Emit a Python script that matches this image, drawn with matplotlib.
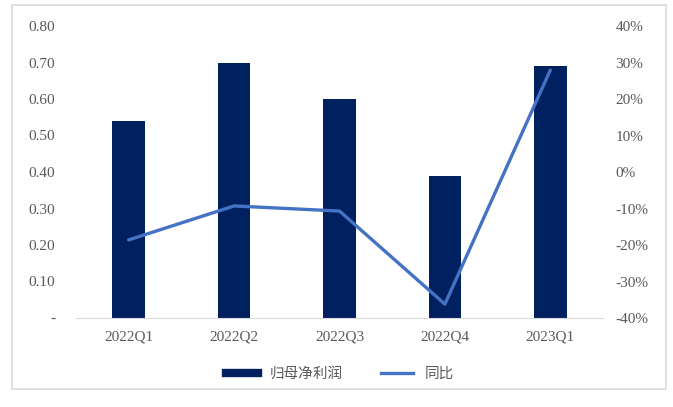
import matplotlib.pyplot as plt
from matplotlib.patches import Rectangle
from matplotlib.lines import Line2D
from matplotlib.ticker import FuncFormatter
import numpy as np

# data
quarters = ['2022Q1', '2022Q2', '2022Q3', '2022Q4', '2023Q1']
net_profit = [0.54, 0.70, 0.60, 0.39, 0.69]
yoy = [-18.6, -9.3, -10.7, -36.2, 27.9]  # percent

bar_color = '#002060'
line_color = '#4472C4'
tick_color = '#595959'

plt.rcParams['font.family'] = ['Liberation Serif', 'Noto Sans CJK SC']

fig = plt.figure(figsize=(6.73, 4.07), dpi=100)
ax = fig.add_axes([76 / 673, 1 - 318 / 407, (603 - 76) / 673, (318 - 26) / 407])
x = np.arange(len(quarters))

ax.bar(x, net_profit, width=0.31, color=bar_color, zorder=2)
ax.set_xlim(-0.5, len(quarters) - 0.5)
ax.set_ylim(0, 0.8)
ax.set_yticks(np.arange(0, 0.81, 0.1))
ax.yaxis.set_major_formatter(FuncFormatter(lambda v, p: '-' if abs(v) < 1e-9 else f'{v:.2f}'))
ax.set_xticks(x)
ax.set_xticklabels(quarters)

ax2 = ax.twinx()
ax2.plot(x, yoy, color=line_color, linewidth=2.4, solid_capstyle='round', zorder=3)
ax2.set_ylim(-40, 40)
ax2.set_yticks(np.arange(-40, 41, 10))
ax2.yaxis.set_major_formatter(FuncFormatter(lambda v, p: f'{v:.0f}%'))

for a in (ax, ax2):
    for s in ('top', 'left', 'right'):
        a.spines[s].set_visible(False)
    a.spines['bottom'].set_color('#D9D9D9')
    a.tick_params(length=0, labelsize=11, colors=tick_color)
ax2.spines['bottom'].set_visible(False)
ax.tick_params(axis='y', pad=15)
ax.tick_params(axis='x', pad=9)
ax2.tick_params(axis='y', pad=9)

handles = [Line2D([], [], color=bar_color, linewidth=6),
           Line2D([], [], color=line_color, linewidth=2.4)]
fig.legend(handles, ['归母净利润', '同比'], loc='center', bbox_to_anchor=(0.505, 1 - 374 / 407),
           ncol=2, frameon=False, handlelength=2.2, columnspacing=2.6,
           prop={'family': ['Noto Sans CJK SC'], 'size': 10.5}, labelcolor=tick_color)

# outer frame
fig.patches.append(Rectangle((12 / 673, 1 - 389 / 407), (666 - 12) / 673, (389 - 5) / 407,
                             transform=fig.transFigure, fill=False, edgecolor='#D9D9D9', linewidth=1.2))

fig.savefig('out.png', dpi=100)
